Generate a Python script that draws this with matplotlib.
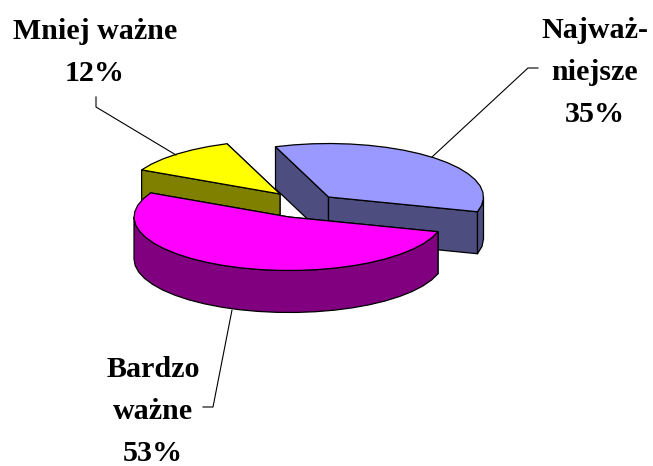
import numpy as np
import matplotlib
matplotlib.use('Agg')
import matplotlib.pyplot as plt
from matplotlib.patches import Polygon

# data
labels = ['Najważ-\nniejsze\n35%', 'Bardzo\nważne\n53%', 'Mniej ważne\n12%']
shares = [35, 53, 12]
top_colors = ['#9999FF', '#FF00FF', '#FFFF00']
side_colors = ['#4D4D80', '#800080', '#808000']

# apex of each exploded slice, in pixels
centers = [(328.5, 197), (289, 217), (280, 194)]
rx, ry = 155, 53.5
depth = 42
start_angle = 110

fig = plt.figure(figsize=(6.53, 4.66), dpi=100)
ax = fig.add_axes([0, 0, 1, 1])
ax.set_xlim(0, 653)
ax.set_ylim(466, 0)
ax.axis('off')


def arc(c, a, b, step=7):
    n = max(int(abs(b - a) / step), 1) + 1
    t = np.radians(np.linspace(a, b, n))
    return np.column_stack([c[0] + rx * np.cos(t), c[1] - ry * np.sin(t)])


def draw_slice(c, a, b, top, side):
    edge = dict(edgecolor='black', linewidth=0.9, joinstyle='round')
    drop = np.array([0, depth])
    # the two cut faces, back one first
    faces = []
    for ang in (a, b):
        p = arc(c, ang, ang)[0]
        faces.append(np.array([c, p, p + drop, np.array(c) + drop]))
    faces.sort(key=lambda f: f[:, 1].mean())
    for f in faces:
        ax.add_patch(Polygon(f, facecolor=side, **edge))
    # outer wall, only the front half of the ellipse shows
    lo, hi = max(b, -180), min(a, 0)
    if hi > lo:
        rim = arc(c, hi, lo)
        ax.add_patch(Polygon(np.vstack([rim, rim[::-1] + drop]), facecolor=side, **edge))
    ax.add_patch(Polygon(np.vstack([c, arc(c, a, b)]), facecolor=top, **edge))


# back slices first, the big one lies over the yellow one
angle = start_angle
spans = []
for s in shares:
    spans.append((angle, angle - s * 3.6))
    angle -= s * 3.6
for i in (0, 2, 1):
    draw_slice(centers[i], spans[i][0], spans[i][1], top_colors[i], side_colors[i])

# leader lines
ax.plot([432, 528, 538], [157, 68, 68], color='black', lw=0.8)
ax.plot([96, 96, 176], [97, 107, 155], color='black', lw=0.8)
ax.plot([232, 213, 203], [310, 407, 407], color='black', lw=0.8)

# labels, one line at a time to keep the spacing of the original
label_pos = [(595, 38), (153, 377), (95, 39)]
for txt, (x, y) in zip(labels, label_pos):
    for k, line in enumerate(txt.split('\n')):
        ax.text(x, y + k * 41.8, line, family='Liberation Serif', weight='bold',
                fontsize=21.6, ha='center', va='baseline', color='black')

fig.savefig('out.png', dpi=100)
